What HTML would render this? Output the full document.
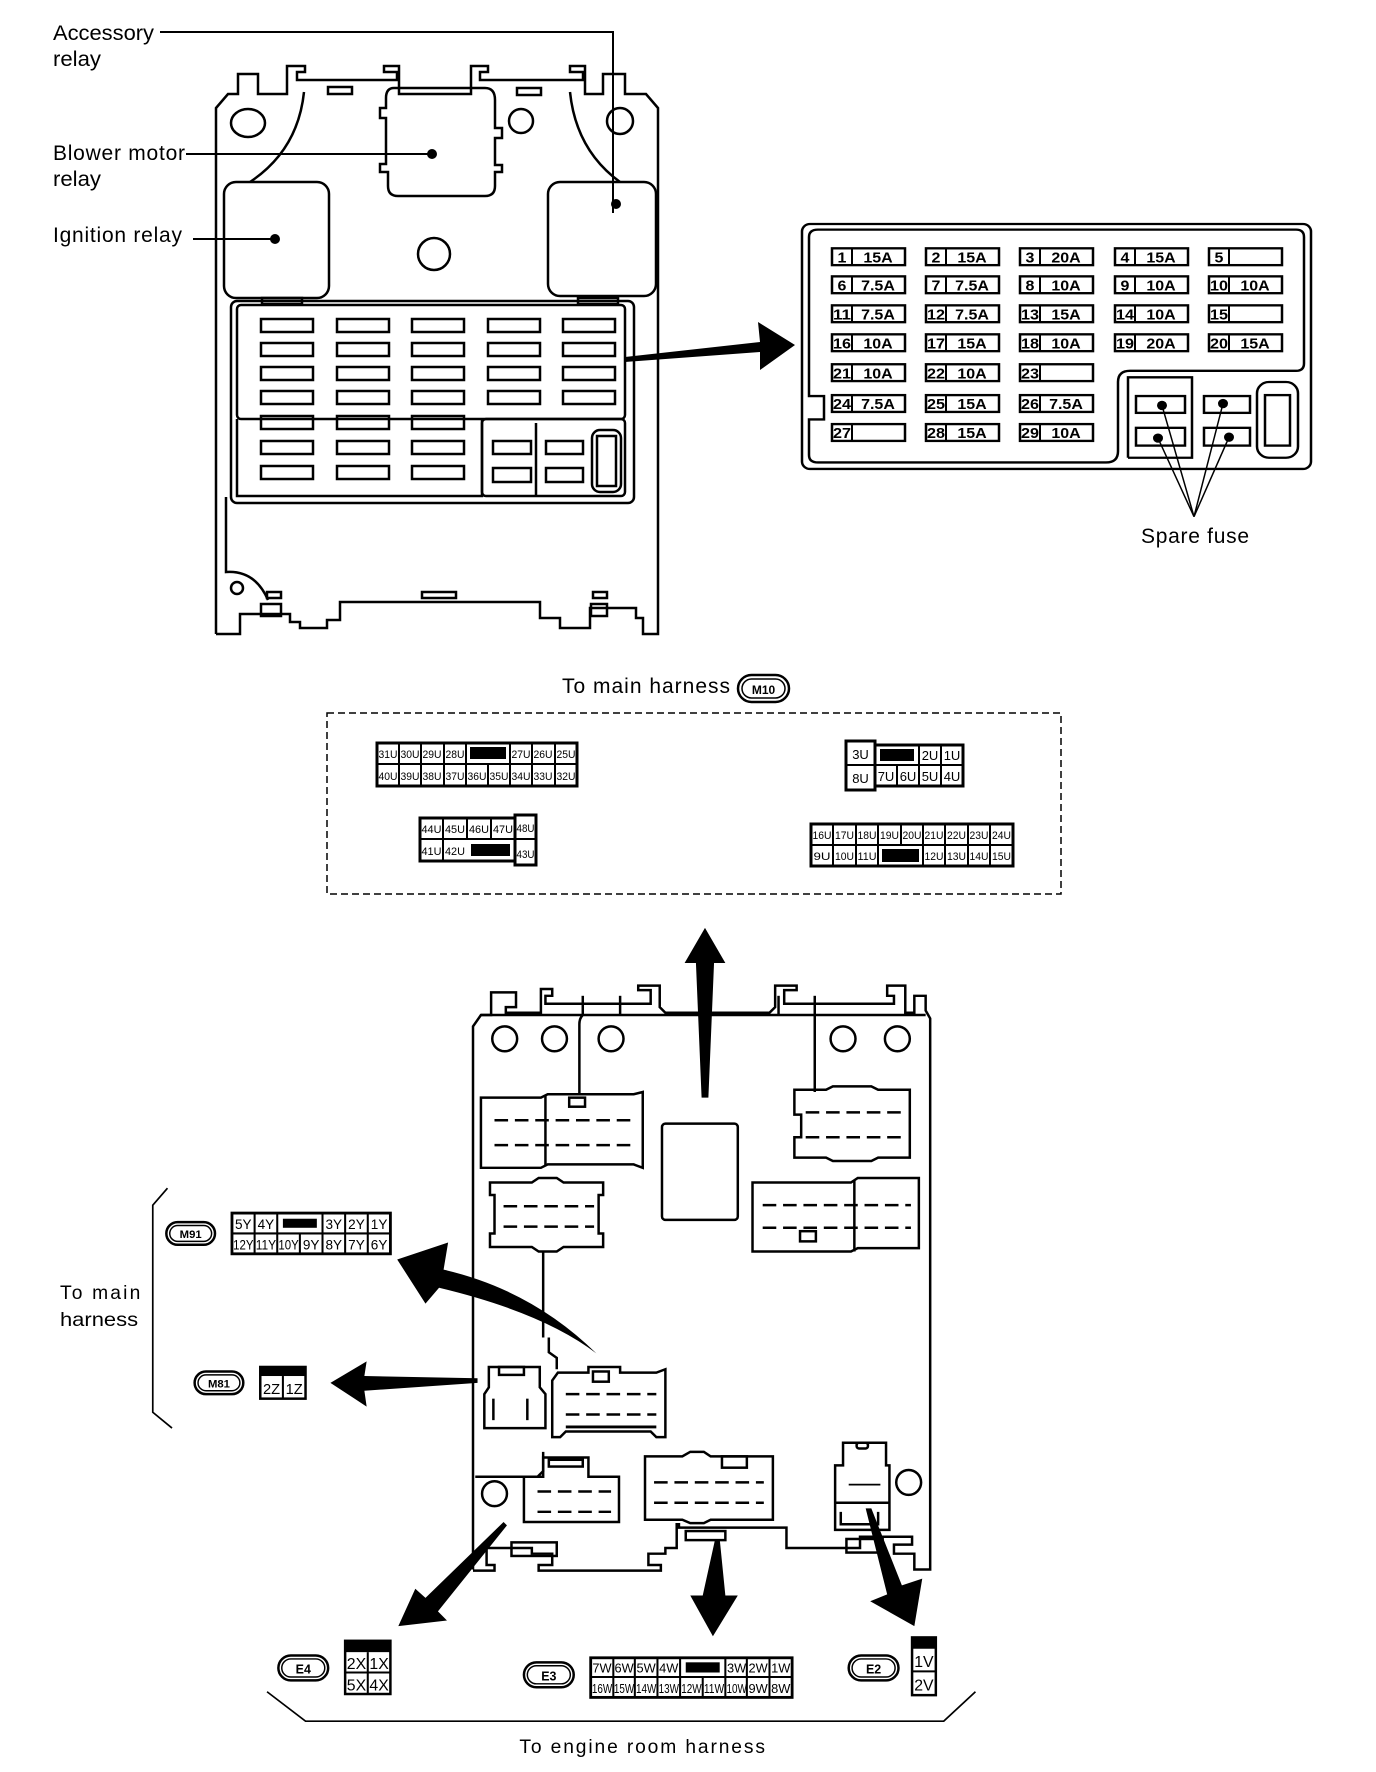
<!DOCTYPE html>
<html><head><meta charset="utf-8">
<style>
html,body{margin:0;padding:0;background:#fff;}
svg{display:block;}
text{font-family:"Liberation Sans",sans-serif;fill:#000;}
.lb{font-size:21px;}
.fz{font-size:16px;font-weight:bold;}
.c{font-size:11px;}
.c2{font-size:13px;}
</style></head><body>
<svg width="1376" height="1772" viewBox="0 0 1376 1772" xmlns="http://www.w3.org/2000/svg">
<rect width="1376" height="1772" fill="#fff"/>
<!-- ============ TOP BOX ============ -->
<g fill="none" stroke="#000" stroke-width="2.5">
<polyline points="216,634 216,108 228,94 238,94 238,74 258,74 258,94 287,94 287,66 305,66 305,72 297,72 297,80 397,80 397,72 384,72 384,66 399,66 399,94 471,94 471,66 488,66 488,72 480,72 480,80 583,80 583,72 570,72 570,66 585,66 585,94 603,94 603,74 625,74 625,94 646,94 658,108 658,634 643,634 643,618 636,618 636,608 590,608 590,628 560,628 560,618 540,618 540,602 340,602 340,620 327,620 327,628 300,628 300,622 290,622 290,614 240,614 240,634 216,634"/>
<path d="M226,497 V572 Q255,570 268,600"/>
<rect x="328" y="87" width="24" height="7"/><rect x="517" y="88" width="24" height="7"/>
<rect x="422" y="592" width="34" height="6"/><rect x="267" y="592" width="14" height="6"/><rect x="593" y="592" width="14" height="6"/>
<rect x="261" y="604" width="20" height="12"/><rect x="591" y="604" width="16" height="12"/>
<path d="M304,92 Q298,150 250,182"/><path d="M570,92 Q576,150 620,182"/>
<ellipse cx="248" cy="123" rx="17" ry="14"/>
<circle cx="521" cy="121" r="12"/>
<circle cx="620" cy="121" r="13"/>
<circle cx="434" cy="254" r="16"/>
<circle cx="237" cy="588" r="6"/>
<path d="M394,88 H485 Q495,88 495,100 V128 H502 V138 H495 V165 H502 V172 H495 V186 Q495,196 485,196 H398 Q388,196 388,186 V172 H380 V164 H386 V118 H380 V108 H386 V98 Q386,88 394,88 Z"/>
<rect x="224" y="182" width="105" height="116" rx="12"/>
<rect x="548" y="182" width="108" height="114" rx="12"/>
<rect x="262" y="298" width="40" height="6"/><rect x="578" y="298" width="40" height="6"/>
</g>
<g fill="none" stroke="#000" stroke-width="2.5" transform="translate(0,-17)">
<rect x="231" y="318" width="403" height="202" rx="6"/>
<rect x="237" y="322" width="388" height="114" rx="4"/>
<polyline points="237,436 237,513 482,513 482,436"/>
<rect x="482" y="436" width="143" height="77" rx="4"/>
<line x1="536" y1="440" x2="536" y2="513"/>
<rect x="261" y="336" width="52" height="13"/><rect x="337" y="336" width="52" height="13"/><rect x="412" y="336" width="52" height="13"/><rect x="488" y="336" width="52" height="13"/><rect x="563" y="336" width="52" height="13"/>
<rect x="261" y="360" width="52" height="13"/><rect x="337" y="360" width="52" height="13"/><rect x="412" y="360" width="52" height="13"/><rect x="488" y="360" width="52" height="13"/><rect x="563" y="360" width="52" height="13"/>
<rect x="261" y="384" width="52" height="13"/><rect x="337" y="384" width="52" height="13"/><rect x="412" y="384" width="52" height="13"/><rect x="488" y="384" width="52" height="13"/><rect x="563" y="384" width="52" height="13"/>
<rect x="261" y="408" width="52" height="13"/><rect x="337" y="408" width="52" height="13"/><rect x="412" y="408" width="52" height="13"/><rect x="488" y="408" width="52" height="13"/><rect x="563" y="408" width="52" height="13"/>
<rect x="261" y="433" width="52" height="13"/><rect x="337" y="433" width="52" height="13"/><rect x="412" y="433" width="52" height="13"/>
<rect x="261" y="458" width="52" height="13"/><rect x="337" y="458" width="52" height="13"/><rect x="412" y="458" width="52" height="13"/>
<rect x="261" y="483" width="52" height="13"/><rect x="337" y="483" width="52" height="13"/><rect x="412" y="483" width="52" height="13"/>
<rect x="493" y="458" width="38" height="13"/><rect x="546" y="458" width="37" height="13"/>
<rect x="493" y="485" width="38" height="14"/><rect x="546" y="485" width="37" height="14"/>
<rect x="592" y="447" width="29" height="62" rx="8"/><rect x="597" y="453" width="19" height="50"/>
</g>
<text class="lb" x="53" y="40" textLength="101" lengthAdjust="spacingAndGlyphs">Accessory</text>
<text class="lb" x="53" y="66" textLength="48" lengthAdjust="spacingAndGlyphs">relay</text>
<text class="lb" x="53" y="160" textLength="132" lengthAdjust="spacing">Blower motor</text>
<text class="lb" x="53" y="186" textLength="48" lengthAdjust="spacingAndGlyphs">relay</text>
<text class="lb" x="53" y="242" textLength="129" lengthAdjust="spacing">Ignition relay</text>
<g stroke="#000" stroke-width="2" fill="none">
<polyline points="160,32 613,32 613,213"/>
<line x1="186" y1="154" x2="432" y2="154"/>
<line x1="193" y1="239" x2="275" y2="239"/>
</g>
<circle cx="432" cy="154" r="5"/><circle cx="275" cy="239" r="5"/><circle cx="616" cy="204" r="5"/>
<polygon points="625,357 760,342 758,322 795,345 760,370 760,352 625,362"/>
<!-- ============ FUSE PANEL ============ -->
<g transform="translate(0,224) scale(1,0.935) translate(0,-227)">
<g fill="none" stroke="#000" stroke-width="2.5">
<rect x="802" y="227" width="509" height="262" rx="8"/>
<path d="M818,233 H1296 Q1304,233 1304,241 V376 Q1304,384 1296,384 H1130 Q1118,384 1118,396 V470 Q1118,482 1106,482 H818 Q809,482 809,474 V436 H824 V411 H809 V241 Q809,233 818,233 Z"/>
<polyline points="1128,477 1128,391 1192,391 1192,477 1128,477"/>
<rect x="1136" y="411" width="49" height="18"/><rect x="1136" y="445" width="49" height="19"/>
<rect x="1204" y="411" width="46" height="18"/><rect x="1204" y="445" width="46" height="19"/>
<rect x="1257" y="396" width="41" height="81" rx="12"/><rect x="1265" y="410" width="25" height="54"/>
</g>
<g stroke="#000" stroke-width="1.5">
<line x1="1162" y1="421" x2="1194" y2="540"/><line x1="1158" y1="456" x2="1194" y2="540"/>
<line x1="1223" y1="419" x2="1194" y2="540"/><line x1="1229" y1="455" x2="1194" y2="540"/>
</g>
<circle cx="1162" cy="421" r="5"/><circle cx="1158" cy="456" r="5"/><circle cx="1223" cy="419" r="5"/><circle cx="1229" cy="455" r="5"/>
<g fill="none" stroke="#000" stroke-width="2.5">
<rect x="832" y="253" width="73" height="18"/><rect x="926" y="253" width="73" height="18"/><rect x="1020" y="253" width="73" height="18"/><rect x="1115" y="253" width="73" height="18"/><rect x="1209" y="253" width="73" height="18"/>
<rect x="832" y="283" width="73" height="18"/><rect x="926" y="283" width="73" height="18"/><rect x="1020" y="283" width="73" height="18"/><rect x="1115" y="283" width="73" height="18"/><rect x="1209" y="283" width="73" height="18"/>
<rect x="832" y="314" width="73" height="18"/><rect x="926" y="314" width="73" height="18"/><rect x="1020" y="314" width="73" height="18"/><rect x="1115" y="314" width="73" height="18"/><rect x="1209" y="314" width="73" height="18"/>
<rect x="832" y="345" width="73" height="18"/><rect x="926" y="345" width="73" height="18"/><rect x="1020" y="345" width="73" height="18"/><rect x="1115" y="345" width="73" height="18"/><rect x="1209" y="345" width="73" height="18"/>
<rect x="832" y="377" width="73" height="18"/><rect x="926" y="377" width="73" height="18"/><rect x="1020" y="377" width="73" height="18"/>
<rect x="832" y="410" width="73" height="18"/><rect x="926" y="410" width="73" height="18"/><rect x="1020" y="410" width="73" height="18"/>
<rect x="832" y="441" width="73" height="18"/><rect x="926" y="441" width="73" height="18"/><rect x="1020" y="441" width="73" height="18"/>
</g>
<g stroke="#000" stroke-width="2">
<line x1="852" y1="253" x2="852" y2="271"/><line x1="852" y1="283" x2="852" y2="301"/><line x1="852" y1="314" x2="852" y2="332"/><line x1="852" y1="345" x2="852" y2="363"/><line x1="852" y1="377" x2="852" y2="395"/><line x1="852" y1="410" x2="852" y2="428"/><line x1="852" y1="441" x2="852" y2="459"/>
<line x1="946" y1="253" x2="946" y2="271"/><line x1="946" y1="283" x2="946" y2="301"/><line x1="946" y1="314" x2="946" y2="332"/><line x1="946" y1="345" x2="946" y2="363"/><line x1="946" y1="377" x2="946" y2="395"/><line x1="946" y1="410" x2="946" y2="428"/><line x1="946" y1="441" x2="946" y2="459"/>
<line x1="1040" y1="253" x2="1040" y2="271"/><line x1="1040" y1="283" x2="1040" y2="301"/><line x1="1040" y1="314" x2="1040" y2="332"/><line x1="1040" y1="345" x2="1040" y2="363"/><line x1="1040" y1="377" x2="1040" y2="395"/><line x1="1040" y1="410" x2="1040" y2="428"/><line x1="1040" y1="441" x2="1040" y2="459"/>
<line x1="1135" y1="253" x2="1135" y2="271"/><line x1="1135" y1="283" x2="1135" y2="301"/><line x1="1135" y1="314" x2="1135" y2="332"/><line x1="1135" y1="345" x2="1135" y2="363"/>
<line x1="1229" y1="253" x2="1229" y2="271"/><line x1="1229" y1="283" x2="1229" y2="301"/><line x1="1229" y1="314" x2="1229" y2="332"/><line x1="1229" y1="345" x2="1229" y2="363"/>
</g>
<g class="fz" text-anchor="middle">
<text x="842" y="268">1</text><text x="878" y="268">15A</text>
<text x="936" y="268">2</text><text x="972" y="268">15A</text>
<text x="1030" y="268">3</text><text x="1066" y="268">20A</text>
<text x="1125" y="268">4</text><text x="1161" y="268">15A</text>
<text x="1219" y="268">5</text>
<text x="842" y="298">6</text><text x="878" y="298">7.5A</text>
<text x="936" y="298">7</text><text x="972" y="298">7.5A</text>
<text x="1030" y="298">8</text><text x="1066" y="298">10A</text>
<text x="1125" y="298">9</text><text x="1161" y="298">10A</text>
<text x="1219" y="298" textLength="18" lengthAdjust="spacingAndGlyphs">10</text><text x="1255" y="298">10A</text>
<text x="842" y="329" textLength="18" lengthAdjust="spacingAndGlyphs">11</text><text x="878" y="329">7.5A</text>
<text x="936" y="329" textLength="18" lengthAdjust="spacingAndGlyphs">12</text><text x="972" y="329">7.5A</text>
<text x="1030" y="329" textLength="18" lengthAdjust="spacingAndGlyphs">13</text><text x="1066" y="329">15A</text>
<text x="1125" y="329" textLength="18" lengthAdjust="spacingAndGlyphs">14</text><text x="1161" y="329">10A</text>
<text x="1219" y="329" textLength="18" lengthAdjust="spacingAndGlyphs">15</text>
<text x="842" y="360" textLength="18" lengthAdjust="spacingAndGlyphs">16</text><text x="878" y="360">10A</text>
<text x="936" y="360" textLength="18" lengthAdjust="spacingAndGlyphs">17</text><text x="972" y="360">15A</text>
<text x="1030" y="360" textLength="18" lengthAdjust="spacingAndGlyphs">18</text><text x="1066" y="360">10A</text>
<text x="1125" y="360" textLength="18" lengthAdjust="spacingAndGlyphs">19</text><text x="1161" y="360">20A</text>
<text x="1219" y="360" textLength="18" lengthAdjust="spacingAndGlyphs">20</text><text x="1255" y="360">15A</text>
<text x="842" y="392" textLength="18" lengthAdjust="spacingAndGlyphs">21</text><text x="878" y="392">10A</text>
<text x="936" y="392" textLength="18" lengthAdjust="spacingAndGlyphs">22</text><text x="972" y="392">10A</text>
<text x="1030" y="392" textLength="18" lengthAdjust="spacingAndGlyphs">23</text>
<text x="842" y="425" textLength="18" lengthAdjust="spacingAndGlyphs">24</text><text x="878" y="425">7.5A</text>
<text x="936" y="425" textLength="18" lengthAdjust="spacingAndGlyphs">25</text><text x="972" y="425">15A</text>
<text x="1030" y="425" textLength="18" lengthAdjust="spacingAndGlyphs">26</text><text x="1066" y="425">7.5A</text>
<text x="842" y="456" textLength="18" lengthAdjust="spacingAndGlyphs">27</text>
<text x="936" y="456" textLength="18" lengthAdjust="spacingAndGlyphs">28</text><text x="972" y="456">15A</text>
<text x="1030" y="456" textLength="18" lengthAdjust="spacingAndGlyphs">29</text><text x="1066" y="456">10A</text>
</g>
</g>
<text class="lb" x="1141" y="543" textLength="108" lengthAdjust="spacing">Spare fuse</text>
<!-- ============ MIDDLE ============ -->
<text class="lb" x="562" y="693" textLength="168" lengthAdjust="spacing">To main harness</text>
<rect x="738" y="675" width="51" height="27" rx="13.5" fill="none" stroke="#000" stroke-width="2.5"/>
<rect x="742" y="679" width="43" height="19" rx="9.5" fill="none" stroke="#000" stroke-width="1.5"/>
<text x="763.5" y="694" text-anchor="middle" font-size="12" font-weight="bold">M10</text>
<rect x="327" y="713" width="734" height="181" fill="none" stroke="#000" stroke-width="1.5" stroke-dasharray="7,4"/>
<!-- conn1 -->
<g fill="none" stroke="#000" stroke-width="2">
<rect x="377" y="743" width="200" height="43" stroke-width="3"/>
<line x1="377" y1="764" x2="577" y2="764"/>
<line x1="399" y1="743" x2="399" y2="786"/><line x1="421" y1="743" x2="421" y2="786"/><line x1="444" y1="743" x2="444" y2="786"/><line x1="466" y1="743" x2="466" y2="786"/><line x1="488" y1="764" x2="488" y2="786"/><line x1="510" y1="743" x2="510" y2="786"/><line x1="532" y1="743" x2="532" y2="786"/><line x1="555" y1="743" x2="555" y2="786"/>
</g>
<rect x="470" y="747" width="36" height="12"/>
<g class="c" text-anchor="middle">
<text x="388" y="758" textLength="19" lengthAdjust="spacingAndGlyphs">31U</text><text x="410" y="758" textLength="19" lengthAdjust="spacingAndGlyphs">30U</text><text x="432" y="758" textLength="19" lengthAdjust="spacingAndGlyphs">29U</text><text x="455" y="758" textLength="19" lengthAdjust="spacingAndGlyphs">28U</text><text x="521" y="758" textLength="19" lengthAdjust="spacingAndGlyphs">27U</text><text x="543" y="758" textLength="19" lengthAdjust="spacingAndGlyphs">26U</text><text x="566" y="758" textLength="19" lengthAdjust="spacingAndGlyphs">25U</text>
<text x="388" y="780" textLength="19" lengthAdjust="spacingAndGlyphs">40U</text><text x="410" y="780" textLength="19" lengthAdjust="spacingAndGlyphs">39U</text><text x="432" y="780" textLength="19" lengthAdjust="spacingAndGlyphs">38U</text><text x="455" y="780" textLength="19" lengthAdjust="spacingAndGlyphs">37U</text><text x="477" y="780" textLength="19" lengthAdjust="spacingAndGlyphs">36U</text><text x="499" y="780" textLength="19" lengthAdjust="spacingAndGlyphs">35U</text><text x="521" y="780" textLength="19" lengthAdjust="spacingAndGlyphs">34U</text><text x="543" y="780" textLength="19" lengthAdjust="spacingAndGlyphs">33U</text><text x="566" y="780" textLength="19" lengthAdjust="spacingAndGlyphs">32U</text>
</g>
<!-- conn2 -->
<g fill="none" stroke="#000" stroke-width="2">
<rect x="846" y="741" width="29" height="49" stroke-width="3"/>
<line x1="846" y1="765" x2="875" y2="765"/>
<rect x="875" y="745" width="88" height="41" stroke-width="3"/>
<line x1="875" y1="765" x2="963" y2="765"/>
<line x1="897" y1="765" x2="897" y2="786"/><line x1="919" y1="745" x2="919" y2="786"/><line x1="941" y1="745" x2="941" y2="786"/>
</g>
<rect x="880" y="749" width="34" height="12"/>
<g class="c2" text-anchor="middle">
<text x="860.5" y="759">3U</text><text x="860.5" y="783">8U</text>
<text x="930" y="760">2U</text><text x="952" y="760">1U</text>
<text x="886" y="781">7U</text><text x="908" y="781">6U</text><text x="930" y="781">5U</text><text x="952" y="781">4U</text>
</g>
<!-- conn3 -->
<g fill="none" stroke="#000" stroke-width="2">
<rect x="420" y="818" width="95" height="43" stroke-width="3"/>
<line x1="420" y1="839" x2="515" y2="839"/>
<line x1="443" y1="818" x2="443" y2="861"/><line x1="467" y1="818" x2="467" y2="839"/><line x1="491" y1="818" x2="491" y2="839"/>
<rect x="515" y="815" width="21" height="50" stroke-width="3"/>
<line x1="515" y1="839" x2="536" y2="839"/>
</g>
<rect x="471" y="844" width="39" height="12"/>
<g class="c" text-anchor="middle">
<text x="431.5" y="833" textLength="20" lengthAdjust="spacingAndGlyphs">44U</text><text x="455" y="833" textLength="20" lengthAdjust="spacingAndGlyphs">45U</text><text x="479" y="833" textLength="20" lengthAdjust="spacingAndGlyphs">46U</text><text x="503" y="833" textLength="20" lengthAdjust="spacingAndGlyphs">47U</text>
<text x="525.5" y="832" textLength="18" lengthAdjust="spacingAndGlyphs">48U</text>
<text x="431.5" y="855" textLength="20" lengthAdjust="spacingAndGlyphs">41U</text><text x="455" y="855" textLength="20" lengthAdjust="spacingAndGlyphs">42U</text>
<text x="525.5" y="858" textLength="18" lengthAdjust="spacingAndGlyphs">43U</text>
</g>
<!-- conn4 -->
<g fill="none" stroke="#000" stroke-width="2">
<rect x="811" y="824" width="202" height="42" stroke-width="3"/>
<line x1="811" y1="845" x2="1013" y2="845"/>
<line x1="833" y1="824" x2="833" y2="866"/><line x1="856" y1="824" x2="856" y2="866"/><line x1="878" y1="824" x2="878" y2="866"/><line x1="901" y1="824" x2="901" y2="845"/><line x1="923" y1="824" x2="923" y2="866"/><line x1="945" y1="824" x2="945" y2="866"/><line x1="968" y1="824" x2="968" y2="866"/><line x1="990" y1="824" x2="990" y2="866"/>
</g>
<rect x="882" y="849" width="37" height="13"/>
<g class="c" text-anchor="middle">
<text x="822" y="839" textLength="19" lengthAdjust="spacingAndGlyphs">16U</text><text x="844.5" y="839" textLength="19" lengthAdjust="spacingAndGlyphs">17U</text><text x="867" y="839" textLength="19" lengthAdjust="spacingAndGlyphs">18U</text><text x="889.5" y="839" textLength="19" lengthAdjust="spacingAndGlyphs">19U</text><text x="912" y="839" textLength="19" lengthAdjust="spacingAndGlyphs">20U</text><text x="934" y="839" textLength="19" lengthAdjust="spacingAndGlyphs">21U</text><text x="956.5" y="839" textLength="19" lengthAdjust="spacingAndGlyphs">22U</text><text x="979" y="839" textLength="19" lengthAdjust="spacingAndGlyphs">23U</text><text x="1001.5" y="839" textLength="19" lengthAdjust="spacingAndGlyphs">24U</text>
<text x="822" y="860" textLength="17" lengthAdjust="spacingAndGlyphs">9U</text><text x="844.5" y="860" textLength="19" lengthAdjust="spacingAndGlyphs">10U</text><text x="867" y="860" textLength="19" lengthAdjust="spacingAndGlyphs">11U</text><text x="934" y="860" textLength="19" lengthAdjust="spacingAndGlyphs">12U</text><text x="956.5" y="860" textLength="19" lengthAdjust="spacingAndGlyphs">13U</text><text x="979" y="860" textLength="19" lengthAdjust="spacingAndGlyphs">14U</text><text x="1001.5" y="860" textLength="19" lengthAdjust="spacingAndGlyphs">15U</text>
</g>
<!-- ============ BOTTOM (displayed coords scaled) ============ -->
<g transform="scale(1.1316)">
<polygon points="623,820 641,851 631,851 626,970 620,970 615,851 605,851"/>
<g fill="none" stroke="#000" stroke-width="2.2">
<polyline points="418,1387 418,907 425,897 434,897 434,877 456,877 456,890 447,890 447,895 478,895 478,874 488,874 488,880 482,880 482,887 575,887 575,875 564,875 564,871 583,871 583,890 588,895 680,895 685,890 685,871 704,871 704,875 693,875 693,887 790,887 790,880 784,880 784,871 800,871 800,895 808,895 808,880 818,880 818,893 822,900 822,1387 808,1387 808,1373 790,1373 790,1365 806,1365 806,1358 760,1358 760,1368 695,1368 695,1350 600,1350 600,1347 598,1347 598,1368 588,1368 588,1373 573,1373 573,1383 584,1383 584,1388 476,1388 476,1383 488,1383 488,1373 476,1373 476,1373 470,1373 470,1368 430,1368 430,1383 437,1383 437,1388 418,1388"/>
<line x1="515" y1="880" x2="515" y2="897"/><line x1="548" y1="880" x2="548" y2="897"/>
<line x1="688" y1="880" x2="688" y2="897"/><line x1="720" y1="880" x2="720" y2="897"/>
<line x1="425" y1="897" x2="818" y2="897"/>
<circle cx="446" cy="918" r="11"/><circle cx="490" cy="918" r="11"/><circle cx="540" cy="918" r="11"/><circle cx="745" cy="918" r="11"/><circle cx="793" cy="918" r="11"/>
<path d="M515,897 Q512,900 512,905 V968"/><path d="M720,897 V965"/>
<path d="M425,970 H478 L484,967 H560 L568,965 V1032 L560,1029 H484 L478,1032 H425 Z"/>
<line x1="482" y1="968" x2="482" y2="1030"/>
<rect x="503" y="970" width="14" height="8"/>
<rect x="585" y="993" width="67" height="85" rx="3"/>
<path d="M702,963 H730 L736,960 H770 L776,963 H804 V1023 H776 L770,1026 H736 L730,1023 H702 V1005 H708 V985 H702 Z"/>
<path d="M433,1045 H470 L476,1041 H492 L498,1045 H533 V1056 H529 V1090 H533 V1102 H498 L492,1106 H476 L470,1102 H433 V1090 H437 V1056 H433 Z"/>
<line x1="480" y1="1106" x2="480" y2="1182"/>
<path d="M665,1045 H752 L758,1041 H812 V1103 H758 L752,1106 H665 Z"/>
<line x1="755" y1="1043" x2="755" y2="1106"/>
<rect x="707" y="1088" width="14" height="9"/>
<path d="M432,1208 H477 V1226 L482,1232 V1262 H428 V1232 L432,1226 Z"/>
<rect x="441" y="1208" width="22" height="7"/>
<line x1="436" y1="1236" x2="436" y2="1255"/><line x1="466" y1="1236" x2="466" y2="1255"/>
<path d="M493,1213 H520 V1208 H548 V1213 H580 L588,1210 V1270 H580 L575,1265 H500 L495,1270 H488 V1220 Z"/>
<rect x="524" y="1212" width="14" height="9"/>
<path d="M485,1182 L485,1195 L492,1200 V1210"/>
<path d="M480,1283 V1300 L475,1305 H420"/>
<path d="M463,1305 H480 V1288 H520 V1305 H547 V1345 H463 Z"/>
<rect x="485" y="1290" width="30" height="6"/>
<circle cx="437" cy="1320" r="11"/>
<path d="M570,1287 H603 L610,1283 H622 L628,1287 H683 V1343 H628 L622,1346 H610 L603,1343 H570 Z"/>
<rect x="638" y="1287" width="22" height="10"/>
<path d="M738,1295 H745 V1275 H783 V1295 H786 V1352 H738 Z"/>
<rect x="757" y="1275" width="10" height="5" rx="2"/>
<line x1="738" y1="1328" x2="786" y2="1328"/>
<polyline points="743,1336 743,1347 776,1347 776,1336"/>
<circle cx="803" cy="1310" r="11"/>
<rect x="452" y="1363" width="40" height="12"/><rect x="748" y="1360" width="32" height="12"/>
<rect x="606" y="1353" width="35" height="8"/>
</g>
<g stroke="#000" stroke-width="2.2" fill="none" stroke-dasharray="12,6">
<line x1="437" y1="990" x2="560" y2="990"/><line x1="437" y1="1012" x2="560" y2="1012"/>
<line x1="712" y1="983" x2="798" y2="983"/><line x1="712" y1="1005" x2="798" y2="1005"/>
<line x1="445" y1="1066" x2="525" y2="1066"/><line x1="445" y1="1084" x2="525" y2="1084"/>
<line x1="674" y1="1065" x2="805" y2="1065"/><line x1="674" y1="1085" x2="805" y2="1085"/>
<line x1="500" y1="1232" x2="580" y2="1232"/><line x1="500" y1="1250" x2="580" y2="1250"/>
<line x1="578" y1="1310" x2="675" y2="1310"/><line x1="578" y1="1328" x2="675" y2="1328"/>
<line x1="475" y1="1318" x2="540" y2="1318"/><line x1="475" y1="1336" x2="540" y2="1336"/>
</g>
<line x1="500" y1="1261" x2="580" y2="1261" stroke="#000" stroke-width="2.5"/>
<line x1="750" y1="1312" x2="778" y2="1312" stroke="#000" stroke-width="1.5"/>
<path d="M351,1113 L396,1098 L392,1122 Q470,1140 527,1196 Q480,1160 388,1138 L376,1152 Z"/>
<polygon points="292,1222 324,1203 322,1216 422,1218 422,1222 322,1229 324,1243"/>
<polygon points="352,1437 367,1404 376,1412 445,1345 448,1348 387,1424 395,1432"/>
<polygon points="630,1446 610,1410 621,1410 632,1360 636,1360 641,1410 652,1410"/>
<polygon points="808,1437 769,1415 784,1409 765,1333 770,1333 797,1401 815,1395"/>
<polyline points="148,1050 135,1065 135,1248 152,1262" fill="none" stroke="#000" stroke-width="1.5"/>
<text x="53" y="1148" font-size="17" textLength="71" lengthAdjust="spacing">To main</text>
<text x="53" y="1172" font-size="17" textLength="69" lengthAdjust="spacingAndGlyphs">harness</text>
<rect x="147" y="1080" width="43" height="20" rx="10" fill="none" stroke="#000" stroke-width="2.2"/>
<rect x="150" y="1083" width="37" height="14" rx="7" fill="none" stroke="#000" stroke-width="1.3"/>
<text x="168.5" y="1094" text-anchor="middle" font-size="10" font-weight="bold">M91</text>
<g fill="none" stroke="#000" stroke-width="1.8">
<rect x="205" y="1072" width="140" height="36" stroke-width="2.5"/>
<line x1="205" y1="1090" x2="345" y2="1090"/>
<line x1="225" y1="1072" x2="225" y2="1108"/><line x1="245" y1="1072" x2="245" y2="1108"/><line x1="265" y1="1090" x2="265" y2="1108"/><line x1="285" y1="1072" x2="285" y2="1108"/><line x1="305" y1="1072" x2="305" y2="1108"/><line x1="325" y1="1072" x2="325" y2="1108"/>
</g>
<rect x="250" y="1077" width="30" height="8"/>
<g font-size="12" text-anchor="middle">
<text x="215" y="1086">5Y</text><text x="235" y="1086">4Y</text><text x="295" y="1086">3Y</text><text x="315" y="1086">2Y</text><text x="335" y="1086">1Y</text>
<text x="215" y="1104" textLength="18" lengthAdjust="spacingAndGlyphs">12Y</text><text x="235" y="1104" textLength="18" lengthAdjust="spacingAndGlyphs">11Y</text><text x="255" y="1104" textLength="18" lengthAdjust="spacingAndGlyphs">10Y</text><text x="275" y="1104">9Y</text><text x="295" y="1104">8Y</text><text x="315" y="1104">7Y</text><text x="335" y="1104">6Y</text>
</g>
<rect x="172" y="1212" width="43" height="20" rx="10" fill="none" stroke="#000" stroke-width="2.2"/>
<rect x="175" y="1215" width="37" height="14" rx="7" fill="none" stroke="#000" stroke-width="1.3"/>
<text x="193.5" y="1226" text-anchor="middle" font-size="10" font-weight="bold">M81</text>
<rect x="230" y="1208" width="40" height="28" fill="none" stroke="#000" stroke-width="2.2"/>
<rect x="230" y="1208" width="40" height="8"/>
<line x1="250" y1="1216" x2="250" y2="1236" stroke="#000" stroke-width="1.8"/>
<text x="240" y="1232" font-size="13" text-anchor="middle">2Z</text><text x="260" y="1232" font-size="13" text-anchor="middle">1Z</text>
<rect x="246" y="1463" width="44" height="22" rx="11" fill="none" stroke="#000" stroke-width="2.2"/>
<rect x="249" y="1466" width="38" height="16" rx="8" fill="none" stroke="#000" stroke-width="1.3"/>
<text x="268" y="1479" text-anchor="middle" font-size="11" font-weight="bold">E4</text>
<rect x="305" y="1450" width="40" height="47" fill="none" stroke="#000" stroke-width="2.2"/>
<rect x="305" y="1450" width="40" height="10"/>
<line x1="305" y1="1478" x2="345" y2="1478" stroke="#000" stroke-width="1.8"/><line x1="325" y1="1460" x2="325" y2="1497" stroke="#000" stroke-width="1.8"/>
<g font-size="14" text-anchor="middle"><text x="315" y="1475">2X</text><text x="335" y="1475">1X</text><text x="315" y="1494">5X</text><text x="335" y="1494">4X</text></g>
<rect x="463" y="1469" width="44" height="22" rx="11" fill="none" stroke="#000" stroke-width="2.2"/>
<rect x="466" y="1472" width="38" height="16" rx="8" fill="none" stroke="#000" stroke-width="1.3"/>
<text x="485" y="1485" text-anchor="middle" font-size="11" font-weight="bold">E3</text>
<g fill="none" stroke="#000" stroke-width="1.8">
<rect x="522" y="1465" width="178" height="35" stroke-width="2.5"/>
<line x1="522" y1="1482" x2="700" y2="1482"/>
<line x1="542" y1="1465" x2="542" y2="1500"/><line x1="561" y1="1465" x2="561" y2="1500"/><line x1="581" y1="1465" x2="581" y2="1500"/><line x1="601" y1="1465" x2="601" y2="1500"/><line x1="621" y1="1482" x2="621" y2="1500"/><line x1="641" y1="1465" x2="641" y2="1500"/><line x1="660" y1="1465" x2="660" y2="1500"/><line x1="680" y1="1465" x2="680" y2="1500"/>
</g>
<rect x="606" y="1469" width="30" height="9"/>
<g font-size="11" text-anchor="middle">
<text x="532" y="1478" textLength="17" lengthAdjust="spacingAndGlyphs">7W</text><text x="551.5" y="1478" textLength="17" lengthAdjust="spacingAndGlyphs">6W</text><text x="571" y="1478" textLength="17" lengthAdjust="spacingAndGlyphs">5W</text><text x="591" y="1478" textLength="17" lengthAdjust="spacingAndGlyphs">4W</text><text x="651" y="1478" textLength="17" lengthAdjust="spacingAndGlyphs">3W</text><text x="670" y="1478" textLength="17" lengthAdjust="spacingAndGlyphs">2W</text><text x="690" y="1478" textLength="17" lengthAdjust="spacingAndGlyphs">1W</text>
<text x="532" y="1496" textLength="18" lengthAdjust="spacingAndGlyphs">16W</text><text x="551.5" y="1496" textLength="18" lengthAdjust="spacingAndGlyphs">15W</text><text x="571" y="1496" textLength="18" lengthAdjust="spacingAndGlyphs">14W</text><text x="591" y="1496" textLength="18" lengthAdjust="spacingAndGlyphs">13W</text><text x="611" y="1496" textLength="18" lengthAdjust="spacingAndGlyphs">12W</text><text x="631" y="1496" textLength="18" lengthAdjust="spacingAndGlyphs">11W</text><text x="651" y="1496" textLength="18" lengthAdjust="spacingAndGlyphs">10W</text><text x="670" y="1496" textLength="17" lengthAdjust="spacingAndGlyphs">9W</text><text x="690" y="1496" textLength="17" lengthAdjust="spacingAndGlyphs">8W</text>
</g>
<rect x="750" y="1463" width="44" height="22" rx="11" fill="none" stroke="#000" stroke-width="2.2"/>
<rect x="753" y="1466" width="38" height="16" rx="8" fill="none" stroke="#000" stroke-width="1.3"/>
<text x="772" y="1479" text-anchor="middle" font-size="11" font-weight="bold">E2</text>
<rect x="806" y="1447" width="21" height="51" fill="none" stroke="#000" stroke-width="2.2"/>
<rect x="806" y="1447" width="21" height="10"/>
<line x1="806" y1="1477" x2="827" y2="1477" stroke="#000" stroke-width="1.8"/>
<text x="816.5" y="1473" font-size="14" text-anchor="middle">1V</text><text x="816.5" y="1494" font-size="14" text-anchor="middle">2V</text>
<polyline points="236,1495 270,1521 834,1521 862,1495" fill="none" stroke="#000" stroke-width="1.5"/>
<text x="459" y="1549" font-size="17" textLength="217" lengthAdjust="spacing">To engine room harness</text>
</g>
</svg>
</body></html>
